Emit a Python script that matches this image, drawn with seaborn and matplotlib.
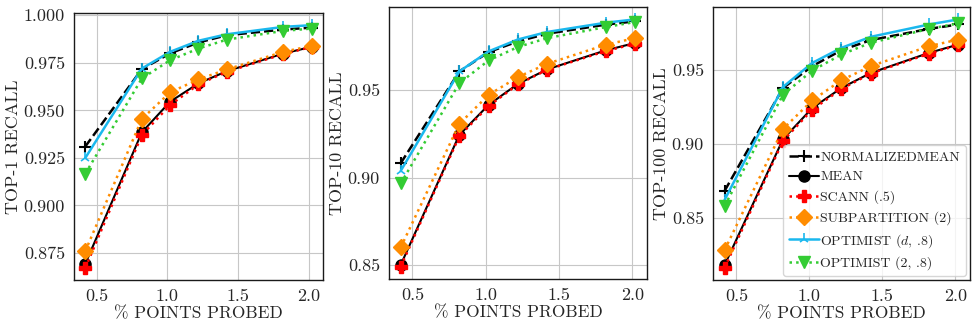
import matplotlib
matplotlib.use("Agg")
import matplotlib.pyplot as plt
import seaborn as sns
from matplotlib.ticker import MultipleLocator, FormatStrFormatter

# ---------------- data ----------------
probed = [0.42, 0.82, 1.02, 1.22, 1.42, 1.82, 2.02]

labels = ["NORMALIZEDMEAN", "MEAN", "SCANN (.5)", "SUBPARTITION (2)",
          r"OPTIMIST ($d$, .8)", "OPTIMIST (2, .8)"]

# Top-1
t1_normmean = [0.931, 0.9717, 0.980, 0.9857, 0.9895, 0.9925, 0.9935]
t1_mean = [0.8693, 0.9385, 0.9546, 0.9642, 0.9706, 0.9799, 0.9834]
t1_scann = [0.8672, 0.9371, 0.9528, 0.9637, 0.9703, 0.9796, 0.9834]
t1_subpart = [0.876, 0.9455, 0.9595, 0.9663, 0.9715, 0.9808, 0.9839]
t1_optd = [0.925, 0.972, 0.9808, 0.9866, 0.990, 0.9939, 0.9948]
t1_opt2 = [0.9167, 0.9668, 0.9764, 0.9825, 0.9872, 0.9918, 0.993]

# Top-10
t10_normmean = [0.9082, 0.9607, 0.9718, 0.9779, 0.9823, 0.9875, 0.9894]
t10_mean = [0.850, 0.9244, 0.9416, 0.9536, 0.9619, 0.9728, 0.977]
t10_scann = [0.849, 0.9237, 0.9409, 0.9533, 0.9617, 0.9724, 0.9766]
t10_subpart = [0.860, 0.9307, 0.9473, 0.9575, 0.9651, 0.976, 0.9798]
t10_optd = [0.9038, 0.9607, 0.9722, 0.979, 0.9833, 0.9886, 0.9905]
t10_opt2 = [0.8966, 0.954, 0.967, 0.9747, 0.9798, 0.9861, 0.989]

# Top-100
t100_normmean = [0.8681, 0.9376, 0.9523, 0.9631, 0.9699, 0.9775, 0.9805]
t100_mean = [0.818, 0.903, 0.924, 0.9376, 0.9477, 0.9613, 0.9669]
t100_scann = [0.8162, 0.9019, 0.9229, 0.9369, 0.9473, 0.9608, 0.9665]
t100_subpart = [0.8281, 0.9099, 0.9292, 0.9428, 0.9523, 0.9658, 0.9703]
t100_optd = [0.862, 0.9383, 0.9545, 0.9647, 0.9721, 0.9805, 0.9839]
t100_opt2 = [0.8579, 0.9331, 0.9493, 0.9602, 0.9681, 0.9775, 0.9812]

panels = [
    ("TOP-1 RECALL", [t1_normmean, t1_mean, t1_scann, t1_subpart, t1_optd, t1_opt2], 0.025, "%.3f"),
    ("TOP-10 RECALL", [t10_normmean, t10_mean, t10_scann, t10_subpart, t10_optd, t10_opt2], 0.05, "%.2f"),
    ("TOP-100 RECALL", [t100_normmean, t100_mean, t100_scann, t100_subpart, t100_optd, t100_opt2], 0.05, "%.2f"),
]

styles = [
    dict(color="black", linestyle="--", marker="+", markersize=9, mew=1.5, lw=1.8),
    dict(color="black", linestyle="-", marker="o", markersize=8, mew=1.0, lw=1.5),
    dict(color="red", linestyle=":", marker="P", markersize=9, mew=1.0, lw=1.8),
    dict(color="darkorange", linestyle=":", marker="D", markersize=8, mew=1.0, lw=1.8),
    dict(color="#1ab8ee", linestyle="-", marker="2", markersize=8, mew=1.2, lw=1.8),
    dict(color="#33cc33", linestyle=":", marker="v", markersize=8, mew=1.0, lw=1.8),
]

# ---------------- style ----------------
sns.set_style("whitegrid", {"axes.edgecolor": "0.1", "grid.color": "0.78"})
plt.rcParams["font.family"] = ["cmr10", "DejaVu Serif"]
plt.rcParams["mathtext.fontset"] = "cm"
plt.rcParams["axes.formatter.use_mathtext"] = True
plt.rcParams["axes.unicode_minus"] = False

fig = plt.figure(figsize=(9.72, 3.24), dpi=100)
positions = [
    [0.0761, 0.1358, 0.2562, 0.8240],
    [0.4002, 0.1389, 0.2654, 0.8395],
    [0.7335, 0.1358, 0.2644, 0.8426],
]

for (ylabel, series, step, fmt), pos in zip(panels, positions):
    ax = fig.add_axes(pos)
    for vals, lab, st in zip(series, labels, styles):
        sns.lineplot(x=probed, y=vals, ax=ax, label=lab,
                     color=st["color"], linestyle=st["linestyle"],
                     marker=st["marker"], markersize=st["markersize"],
                     markeredgecolor=st["color"], markerfacecolor=st["color"],
                     markeredgewidth=st["mew"], linewidth=st["lw"])
    ax.yaxis.set_major_locator(MultipleLocator(step))
    ax.yaxis.set_major_formatter(FormatStrFormatter(fmt))
    ax.xaxis.set_major_locator(MultipleLocator(0.5))
    ax.xaxis.set_major_formatter(FormatStrFormatter("%.1f"))
    ax.tick_params(labelsize=13, colors="0.15", pad=3)
    ax.set_xlabel("% POINTS PROBED", fontsize=12.5, labelpad=1)
    ax.set_ylabel(ylabel, fontsize=13, labelpad=2)
    for sp in ax.spines.values():
        sp.set_linewidth(1.0)
    leg = ax.get_legend()
    if leg is not None:
        leg.remove()
    last_ax = ax

last_ax.legend(loc="lower right", fontsize=10, frameon=True, framealpha=0.8,
               handlelength=2.2, handletextpad=0.1, borderpad=0.4,
               labelspacing=0.5, borderaxespad=0.3)

fig.savefig("out.png", dpi=100)
